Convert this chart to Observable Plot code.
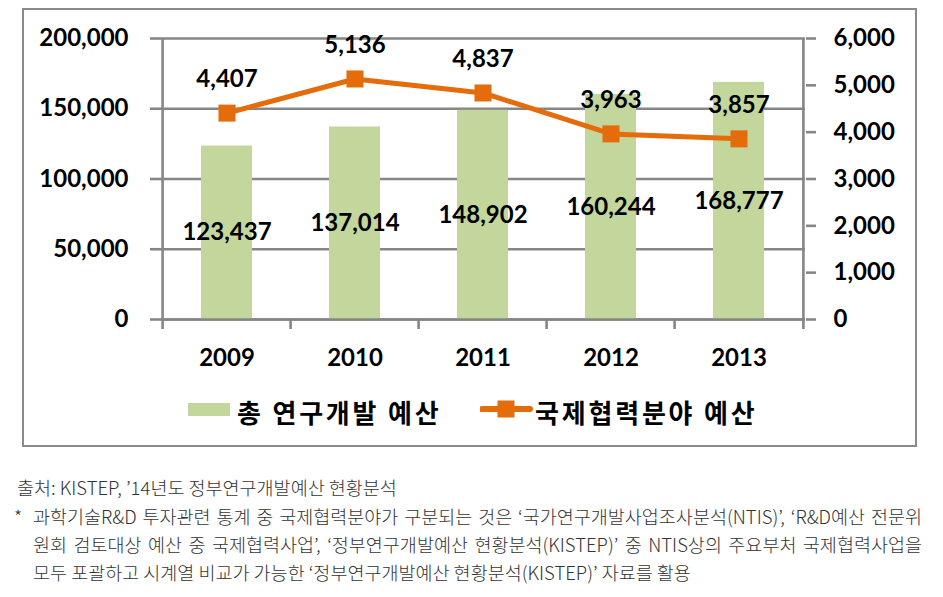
<!DOCTYPE html>
<html><head><meta charset="utf-8">
<script src="https://cdn.jsdelivr.net/npm/d3@7"></script>
<script src="https://cdn.jsdelivr.net/npm/@observablehq/plot@0.6"></script>
<style>
body{margin:0;background:#fff;width:943px;height:597px;position:relative;overflow:hidden;}
#frame{position:absolute;left:22px;top:8px;width:891px;height:435px;border:2px solid #8a8a8a;}
#chart{position:absolute;left:0;top:0;}
.leg{position:absolute;font-family:"Noto Sans CJK KR",sans-serif;font-weight:bold;font-size:26px;line-height:26px;letter-spacing:2.8px;color:#000;white-space:nowrap;}
.note{position:absolute;font-family:"Noto Sans CJK KR",sans-serif;font-weight:300;font-size:18.5px;line-height:20px;color:#333;white-space:nowrap;}
.just{white-space:normal;text-align:justify;text-align-last:justify;width:889px;}
</style>
</head><body>
<div id="frame"></div>
<div id="chart"></div>
<div id="legend"></div>
<div id="notes"></div>
<script>
const years = ["2009", "2010", "2011", "2012", "2013"];
const totalBudget = [123437, 137014, 148902, 160244, 168777];
const intlBudget = [4407, 5136, 4837, 3963, 3857];
const leftTicks = [0, 50000, 100000, 150000, 200000];
const rightTicks = [0, 1000, 2000, 3000, 4000, 5000, 6000];
const seriesNames = ["총 연구개발 예산", "국제협력분야 예산"];
const leftMax = 200000, rightMax = 6000;
const noteLines = [
  "출처: KISTEP, ’14년도 정부연구개발예산 현황분석",
  "과학기술R&D 투자관련 통계 중 국제협력분야가 구분되는 것은 ‘국가연구개발사업조사분석(NTIS)’, ‘R&D예산 전문위",
  "원회 검토대상 예산 중 국제협력사업’, ‘정부연구개발예산 현황분석(KISTEP)’ 중 NTIS상의 주요부처 국제협력사업을",
  "모두 포괄하고 시계열 비교가 가능한 ‘정부연구개발예산 현황분석(KISTEP)’ 자료를 활용"
];

const k = leftMax / rightMax;
const rows = years.map((year, i) => ({year, total: totalBudget[i], intl: intlBudget[i]}));
const fmt = d3.format(",");
const gray = "#868686", green = "#C3D69B", orange = "#E46C0A";
const W = 943, H = 385, ML = 161, MR = 138, MT = 38, MB = 66;
const step = (W - ML - MR) / years.length;
const sw = 2.6;

const plot = Plot.plot({
  width: W, height: H, marginLeft: ML, marginRight: MR, marginTop: MT, marginBottom: MB,
  style: {fontFamily: "Lato, 'Noto Sans CJK KR', sans-serif", fontSize: "24px", fontWeight: "bold", color: "#000", background: "transparent", overflow: "visible"},
  x: {type: "band", domain: years, paddingInner: 0.6, paddingOuter: 0.3},
  y: {domain: [0, leftMax]},
  marks: [
    Plot.gridY({ticks: leftTicks, stroke: gray, strokeOpacity: 1, strokeWidth: sw}),
    Plot.barY(rows, {x: "year", y: "total", fill: green}),
    Plot.ruleY([0], {stroke: gray, strokeWidth: sw}),
    Plot.axisY({ticks: leftTicks, anchor: "left", tickSize: 11, tickPadding: 22, stroke: gray, strokeWidth: sw, tickFormat: fmt, label: null}),
    Plot.axisY({ticks: rightTicks.map(v => v * k), anchor: "right", tickSize: 10, tickPadding: 18, stroke: gray, strokeWidth: sw, tickFormat: d => fmt(Math.round(d / k)), label: null}),
    Plot.axisX({tickSize: 0, tickPadding: 29, label: null}),
    Plot.ruleX([years[0]], {dx: -step / 2, stroke: gray, strokeWidth: sw, insetBottom: -10}),
    Plot.ruleX([years[years.length - 1]], {dx: step / 2, stroke: gray, strokeWidth: sw, insetBottom: -10}),
    Plot.ruleX(years.slice(1), {dx: -step / 2, y1: 0, y2: 0, insetBottom: -10, stroke: gray, strokeWidth: sw}),
    Plot.line(rows, {x: "year", y: d => d.intl * k, stroke: orange, strokeWidth: 5}),
    Plot.dot(rows, {x: "year", y: d => d.intl * k, symbol: "square", r: 9.6, fill: orange}),
    Plot.text(rows, {x: "year", y: d => d.total / 2, text: d => fmt(d.total)}),
    Plot.text(rows, {x: "year", y: d => d.intl * k, text: d => fmt(d.intl), dy: -34})
  ]
});
document.getElementById("chart").append(plot);

const legend = document.getElementById("legend");
legend.innerHTML = `
<div style="position:absolute;left:188px;top:403px;width:42px;height:13px;background:${green}"></div>
<div class="leg" style="left:237px;top:399px">${seriesNames[0]}</div>
<svg style="position:absolute;left:480px;top:398px" width="54" height="22">
  <line x1="2" x2="50" y1="11" y2="11" stroke="${orange}" stroke-width="6" stroke-linecap="round"/>
  <rect x="17.5" y="2.5" width="17" height="17" fill="${orange}"/>
</svg>
<div class="leg" style="left:535px;top:399px">${seriesNames[1]}</div>`;

const notes = document.getElementById("notes");
notes.innerHTML = `
<div class="note" style="left:17px;top:477px">${noteLines[0]}</div>
<div class="note" style="left:14px;top:506px">*</div>
<div class="note just" style="left:33px;top:506px">${noteLines[1]}</div>
<div class="note just" style="left:33px;top:534px">${noteLines[2]}</div>
<div class="note" style="left:33px;top:562px">${noteLines[3]}</div>`;
</script>
</body></html>
